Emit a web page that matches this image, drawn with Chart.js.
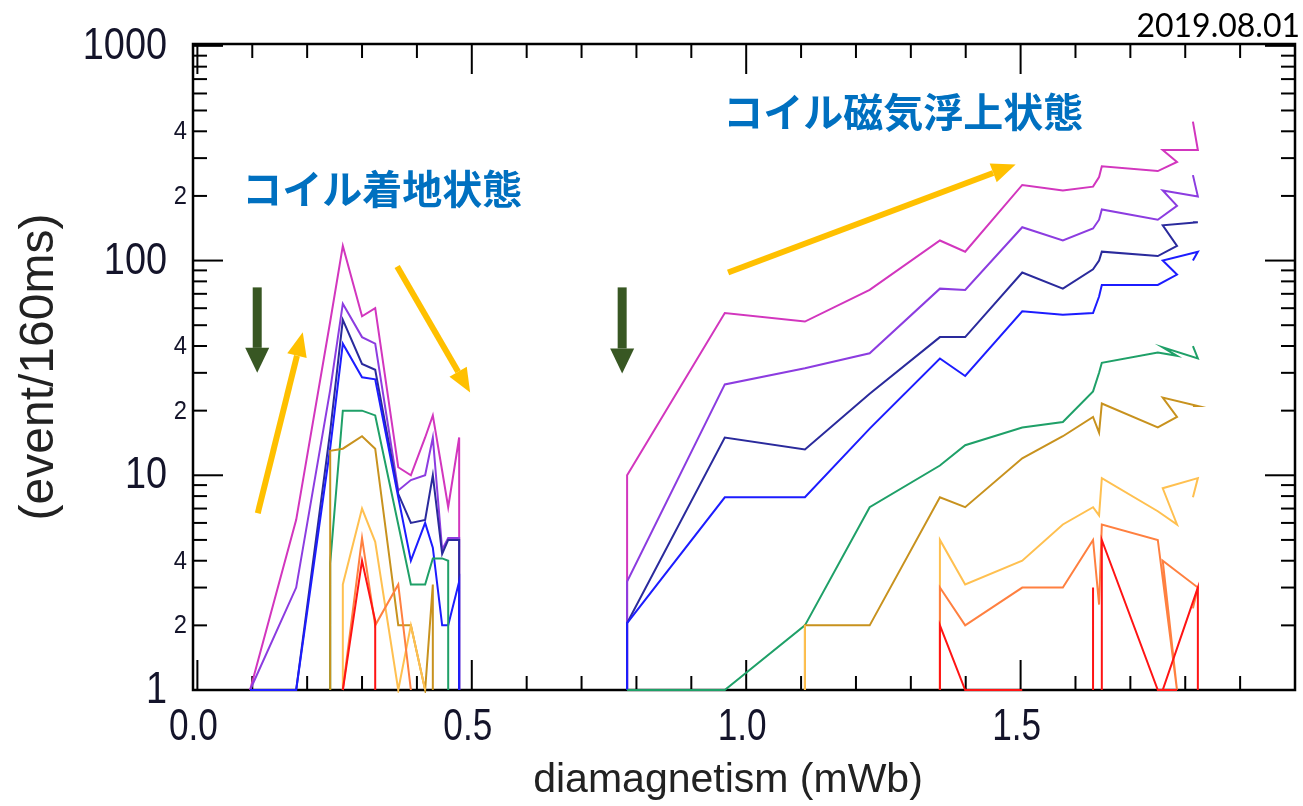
<!DOCTYPE html>
<html>
<head>
<meta charset="utf-8">
<script src="https://cdn.jsdelivr.net/npm/chart.js@4.4.1/dist/chart.umd.min.js"></script>
<style>
  html, body { margin: 0; padding: 0; background: #ffffff; }
  #wrap { width: 1303px; height: 806px; position: relative; }
</style>
</head>
<body>
<div id="wrap"><canvas id="chart" width="1303" height="806"></canvas></div>
<script>
// Diamagnetism of each 160 ms time bin (mWb), in time order.
// The 0.60 bin separates the landed and the levitated runs (no events).
const diamagnetism = [
  0.096, 0.180, 0.242, 0.265, 0.300, 0.324, 0.366, 0.389, 0.415, 0.429, 0.446, 0.457, 0.477,
  0.600,
  0.783, 0.961, 1.107, 1.225, 1.353, 1.399, 1.503, 1.577, 1.632, 1.643, 1.648, 1.750, 1.785, 1.759, 1.823, 1.814
];

// Event counts per 160 ms for each threshold class (0 = no events)
const countsMagenta = [1, 6.2, 52, 117, 55, 60, 10.9, 10, 15, 19, 10.5, 7.1, 15, 0,
  10, 57, 52, 73, 124, 110, 225, 212, 221, 245, 275, 261, 288, 327, 327, 444];
const countsPurple = [1, 3.0, 25, 63, 44, 41, 8.5, 9.5, 10, 15, 4.5, 5.1, 5.1, 0,
  3.2, 26.5, 31.5, 37, 74, 73, 143, 124, 141, 155, 173, 155, 180, 212, 199, 250];
const countsNavy = [1, 1, 16, 53, 33, 31, 8.2, 6.0, 6.2, 10, 4.3, 5.0, 5.0, 0,
  2.05, 15, 13.2, 24, 44, 44, 88, 74, 91, 100, 110, 105, 117, 146, 151, 151];
const countsBlue = [1, 1, 13.4, 41, 28.6, 28, 7.9, 4.0, 6.0, 4.6, 2.0, 2.0, 3.2, 0,
  2.05, 7.9, 7.9, 16.5, 35, 29, 58, 56, 57, 68, 77, 77, 86, 100, 110, 100];
const countsGreen = [0, 0, 3.9, 20, 20, 19, 5.9, 3.1, 3.1, 4.1, 4.1, 4.0, 0, 0,
  1, 1, 2.0, 7.1, 11.1, 13.8, 16.7, 17.7, 24.6, 30, 33.4, 37.3, 36, 39.4, 35, 40];
const countsGold = [0, 0, 13, 13.3, 15.2, 13.3, 2.0, 2.0, 1, 3.1, 0, 0, 0, 0,
  0, 0, 2.0, 2.0, 7.9, 7.1, 12, 15.2, 18.7, 15.8, 21.6, 16.7, 18.7, 23, 21, 21];
const countsLightOrange = [0, 0, 0, 3.1, 7.0, 4.9, 1, 2, 1, 0, 0, 0, 0, 0,
  0, 0, 2.0, 0, 5.0, 3.1, 4.0, 5.9, 7.1, 6.5, 9.7, 6.8, 5.9, 8.7, 9.7, 7.9];
const countsSalmon = [0, 0, 0, 1, 5.1, 2.0, 3.1, 1, 0, 0, 0, 0, 0, 0,
  0, 0, 0, 0, 3.0, 2.0, 3.0, 3.0, 5.0, 2.5, 5.9, 5.0, 1, 4.0, 3.0, 2.4];
const countsRed = [0, 0, 0, 1, 4.0, 2.1, 0, 0, 0, 0, 0, 0, 0, 0,
  0, 0, 0, 0, 2.0, 1, 1, 0, 3.0, 0, 5.0, 1, 1, 1, 3.0, 0];

const seriesColors = ['#D236BE', '#8C3CE0', '#2A2A9C', '#1C1CFF', '#1FA068', '#C8921E', '#FFC050', '#FF8040', '#FF1414'];
const seriesCounts = [countsMagenta, countsPurple, countsNavy, countsBlue, countsGreen,
  countsGold, countsLightOrange, countsSalmon, countsRed];

// Axis tick labels
const xTickValues = [0.0, 0.5, 1.0, 1.5];
const xTickLabels = ['0.0', '0.5', '1.0', '1.5'];
const yMajorValues = [1, 10, 100, 1000];
const yMajorLabels = ['1', '10', '100', '1000'];
const yMinorLabelled = [2, 4];

const Y_MIN = 1;

// A bin with no events sits at -infinity on the log axis, so the trace
// falls straight down to the axis at the neighbouring bin.
function tracePoints(xs, ys) {
  const pts = [];
  for (let i = 0; i < xs.length; i++) {
    const v = ys[i];
    if (!(v > 0)) continue;
    if (i > 0 && !(ys[i - 1] > 0)) pts.push({ x: xs[i], y: Y_MIN });
    pts.push({ x: xs[i], y: v });
    if (i < xs.length - 1 && !(ys[i + 1] > 0)) {
      pts.push({ x: xs[i], y: Y_MIN });
      pts.push({ x: xs[i], y: null });
    }
  }
  return pts;
}

// Lower classes are painted over the higher ones
const datasets = seriesCounts.map((c, i) => ({
  data: tracePoints(diamagnetism, c),
  borderColor: seriesColors[i],
  borderWidth: 2,
  pointRadius: 0,
  tension: 0,
  spanGaps: false,
  clip: 3,
  order: seriesCounts.length - i
}));

// Annotation arrows in data coordinates: [x0, y0, x1, y1]
const greenArrows = [[0.109, 75, 0.109, 30], [0.774, 75, 0.774, 29.8]];
const orangeArrows = [[0.110, 6.66, 0.192, 46.3], [0.364, 93.8, 0.497, 24.3], [0.967, 88, 1.491, 280]];
const stateLabels = [
  { text: 'コイル着地状態', x: 0.337, y: 215 },
  { text: 'コイル磁気浮上状態', x: 1.286, y: 494 }
];

function drawArrow(ctx, x0, y0, x1, y1, color, shaft, headLen, headHalf) {
  const ang = Math.atan2(y1 - y0, x1 - x0);
  const bx = x1 - headLen * Math.cos(ang), by = y1 - headLen * Math.sin(ang);
  ctx.strokeStyle = color; ctx.fillStyle = color; ctx.lineWidth = shaft; ctx.lineCap = 'butt';
  ctx.beginPath(); ctx.moveTo(x0, y0); ctx.lineTo(bx, by); ctx.stroke();
  ctx.beginPath();
  ctx.moveTo(x1, y1);
  ctx.lineTo(bx + headHalf * Math.sin(ang), by - headHalf * Math.cos(ang));
  ctx.lineTo(bx - headHalf * Math.sin(ang), by + headHalf * Math.cos(ang));
  ctx.closePath(); ctx.fill();
}

function squashedText(ctx, text, x, y, sx) {
  ctx.save(); ctx.translate(x, y); ctx.scale(sx, 1); ctx.fillText(text, 0, 0); ctx.restore();
}

// Box frame with inward ticks, drawn beneath the traces
const framePlugin = {
  id: 'frame',
  beforeDatasetsDraw(chart) {
    const { ctx, chartArea: a, scales: { x, y } } = chart;
    ctx.save();
    ctx.strokeStyle = '#000'; ctx.lineWidth = 2.5;
    ctx.strokeRect(a.left, a.top, a.right - a.left, a.bottom - a.top);

    ctx.lineWidth = 2;
    const seg = (x0, y0, x1, y1) => { ctx.beginPath(); ctx.moveTo(x0, y0); ctx.lineTo(x1, y1); ctx.stroke(); };
    for (let i = 0; i <= 20; i++) {
      const px = x.getPixelForValue(i / 10);
      const len = i % 5 === 0 ? 30 : 14;
      seg(px, a.bottom, px, a.bottom - len);
      seg(px, a.top, px, a.top + len);
    }
    for (let d = 0; d <= 3; d++) {
      for (let m = 1; m <= 9; m++) {
        const v = m * Math.pow(10, d);
        if (v > 1000) break;
        const py = y.getPixelForValue(v);
        const len = m === 1 ? 30 : 14;
        seg(a.left, py, a.left + len, py);
        seg(a.right, py, a.right - len, py);
      }
    }
    ctx.restore();
  },
  afterDatasetsDraw(chart) {
    const { ctx, chartArea: a, scales: { x, y } } = chart;
    ctx.save();
    // tick labels
    ctx.fillStyle = '#14142a';
    ctx.textBaseline = 'middle';
    ctx.textAlign = 'right';
    ctx.font = '44px "Liberation Sans", Arial, sans-serif';
    yMajorValues.forEach((v, i) => squashedText(ctx, yMajorLabels[i], 167, y.getPixelForValue(v) + 1, 0.86));
    ctx.font = '25px "Liberation Sans", Arial, sans-serif';
    for (let d = 0; d < 3; d++) {
      yMinorLabelled.forEach(m => {
        const v = m * Math.pow(10, d);
        squashedText(ctx, String(m), 187, y.getPixelForValue(v) + 1, 0.95);
      });
    }
    ctx.textAlign = 'center';
    ctx.textBaseline = 'top';
    ctx.font = '44px "Liberation Sans", Arial, sans-serif';
    xTickValues.forEach((v, i) => squashedText(ctx, xTickLabels[i], x.getPixelForValue(v) - 4, 706, 0.8));

    // axis titles
    ctx.fillStyle = '#222';
    ctx.font = '41px "Liberation Sans", Arial, sans-serif';
    ctx.textBaseline = 'middle';
    squashedText(ctx, 'diamagnetism (mWb)', 728, 781, 1.0);
    ctx.save();
    ctx.translate(40, (a.top + a.bottom) / 2);
    ctx.rotate(-Math.PI / 2);
    ctx.font = '48px "Liberation Sans", Arial, sans-serif';
    ctx.fillText('(event/160ms)', 0, 0);
    ctx.restore();

    // date stamp
    ctx.fillStyle = '#000';
    ctx.font = '32px Lato, "Noto Sans", sans-serif';
    ctx.textAlign = 'right';
    ctx.textBaseline = 'alphabetic';
    ctx.fillText('2019.08.01', 1300, 37);

    // state labels
    ctx.fillStyle = '#0070C0';
    ctx.font = 'bold 40px "Noto Sans CJK JP", sans-serif';
    ctx.textAlign = 'center';
    ctx.textBaseline = 'middle';
    stateLabels.forEach(s => ctx.fillText(s.text, x.getPixelForValue(s.x), y.getPixelForValue(s.y)));

    // arrows
    greenArrows.forEach(([x0, y0, x1, y1]) => drawArrow(ctx,
      x.getPixelForValue(x0), y.getPixelForValue(y0), x.getPixelForValue(x1), y.getPixelForValue(y1),
      '#385723', 9, 25, 12));
    orangeArrows.forEach(([x0, y0, x1, y1]) => drawArrow(ctx,
      x.getPixelForValue(x0), y.getPixelForValue(y0), x.getPixelForValue(x1), y.getPixelForValue(y1),
      '#FFC000', 6, 24, 10));
    ctx.restore();
  }
};

new Chart(document.getElementById('chart'), {
  type: 'line',
  data: { datasets },
  options: {
    responsive: false,
    animation: false,
    devicePixelRatio: 1,
    layout: { padding: { left: 193, right: 8, top: 44, bottom: 116 } },
    plugins: { legend: { display: false }, tooltip: { enabled: false } },
    scales: {
      x: { type: 'linear', min: -0.008, max: 2.0, display: false },
      y: { type: 'logarithmic', min: Y_MIN, max: 1020, display: false }
    }
  },
  plugins: [framePlugin]
});
</script>
</body>
</html>
